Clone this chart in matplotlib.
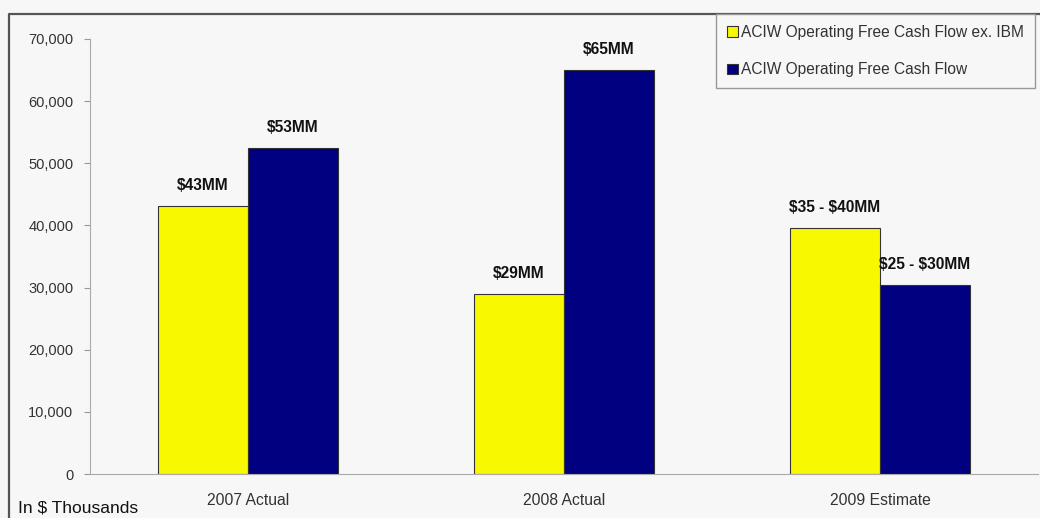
import matplotlib.pyplot as plt
from matplotlib.lines import Line2D
import numpy as np

plt.rcParams['font.family'] = ['Liberation Sans', 'DejaVu Sans']
plt.rcParams['text.parse_math'] = False

categories = ['2007 Actual', '2008 Actual', '2009 Estimate']
series_names = ['ACIW Operating Free Cash Flow ex. IBM', 'ACIW Operating Free Cash Flow']
ex_ibm = [43100, 29000, 39600]
total = [52500, 65000, 30400]
ex_ibm_labels = ['$43MM', '$29MM', '$35 - $40MM']
total_labels = ['$53MM', '$65MM', '$25 - $30MM']
yticks = [0, 10000, 20000, 30000, 40000, 50000, 60000, 70000]

bg = '#f7f7f7'
fig = plt.figure(figsize=(10.4, 5.18), dpi=100, facecolor=bg)
ax = fig.add_axes([90/1040, 1-474/518, 948/1040, 435/518], facecolor=bg)

x = np.arange(len(categories))
w = 0.285
b1 = ax.bar(x - w/2, ex_ibm, w, color='#f8f800', edgecolor='#333333', linewidth=0.8, label=series_names[0])
b2 = ax.bar(x + w/2, total, w, color='#000080', edgecolor='#333333', linewidth=0.8, label=series_names[1])

for bars, labels in ((b1, ex_ibm_labels), (b2, total_labels)):
    for r, t in zip(bars, labels):
        ax.annotate(t, (r.get_x() + r.get_width()/2, r.get_height()),
                    xytext=(0, 9.5), textcoords='offset points',
                    ha='center', va='bottom', fontsize=11.2, fontweight='bold', color='#111111')

ax.set_xlim(-0.5, 2.5)
ax.set_ylim(0, 70000)
ax.set_yticks(yticks)
ax.set_yticklabels([f'{v:,}' for v in yticks])
ax.set_xticks(x)
ax.set_xticklabels(categories)
ax.tick_params(axis='y', colors='#999999', labelcolor='#333333', labelsize=10.5, length=4, pad=8)
ax.tick_params(axis='x', length=0, labelcolor='#333333', labelsize=11.3, pad=14)
for s in ('top', 'right'):
    ax.spines[s].set_visible(False)
for s in ('left', 'bottom'):
    ax.spines[s].set_color('#aaaaaa')

# outer chart frame
fig.add_artist(Line2D([9/1040, 9/1040, 1.0], [0, 1-14/518, 1-14/518], transform=fig.transFigure,
                      color='#555555', linewidth=1.6))

leg = fig.legend(loc='upper left', bbox_to_anchor=(716/1040, 1-14/518), fontsize=11.2,
                 frameon=True, fancybox=False, edgecolor='#999999', facecolor=bg, framealpha=1,
                 handlelength=0.7, handleheight=0.7, handletextpad=0.2, labelspacing=1.45,
                 borderpad=0.7, borderaxespad=0)
for t in leg.get_texts():
    t.set_color('#333333')

fig.text(18/1040, 1-508/518, 'In $ Thousands', fontsize=12.5, color='#111111', va='center', ha='left')

fig.savefig('out.png', dpi=100, facecolor=bg)
